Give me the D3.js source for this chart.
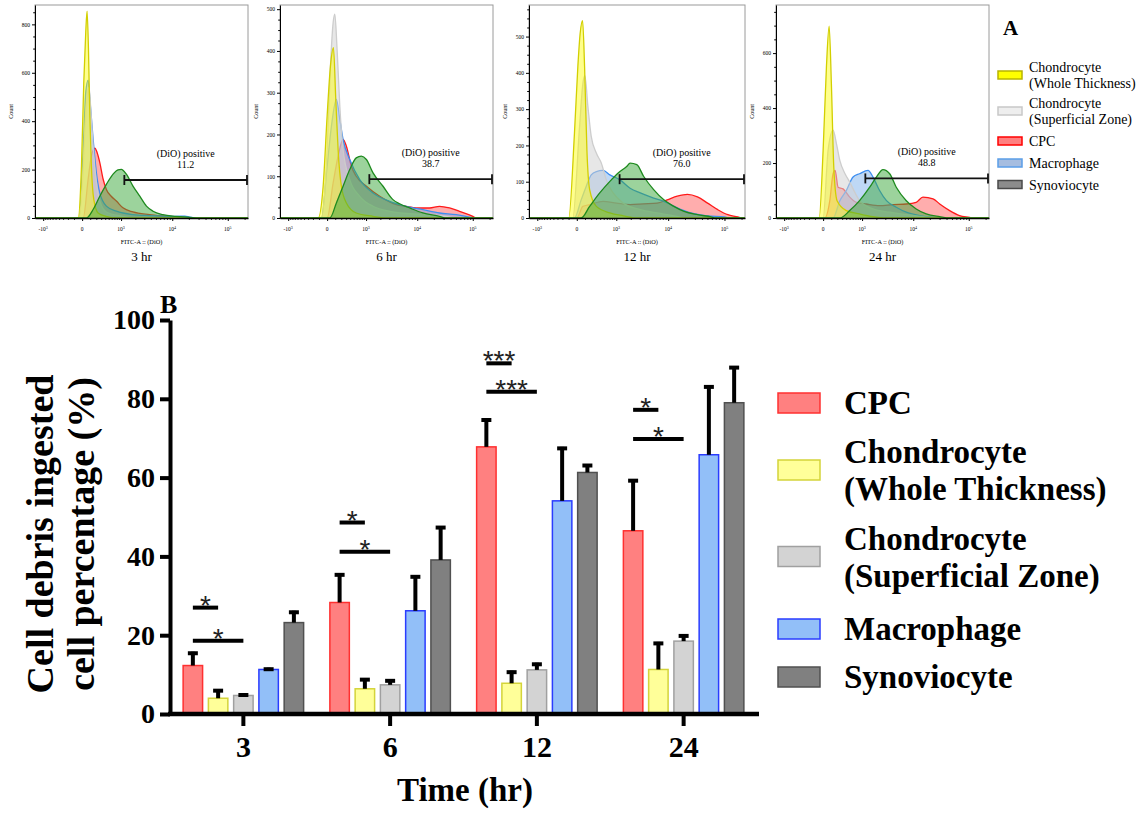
<!DOCTYPE html>
<html><head><meta charset="utf-8">
<script src="https://cdn.jsdelivr.net/npm/d3@7"></script>
<style>body{margin:0;background:#fff} svg{display:block}</style>
</head><body><svg id="c" width="1147" height="815"></svg>
<script>
// ---------- Panel A data (FITC intensity, count) ----------
const histPanels = ["3 hr","6 hr","12 hr","24 hr"];
const gateLabels = ["11.2","38.7","76.0","48.8"];
const gateLevels = [157, 93, 107, 144];
const gateStart = 1180;
const yMaxes = [880, 510, 587, 775];
const yTickSets = [[0,200,400,600,800],[0,100,200,300,400,500],[0,100,200,300,400,500],[0,200,400,600]];

const whole3 = [[-45,0],[-7,215],[18,563],[41,771],[57,855],[75,702],[94,424],[117,215],[156,76],[234,21],[425,7],[800,0]];
const super3 = [[-33,0],[11,200],[41,430],[71,530],[84,540],[108,450],[144,300],[201,150],[270,70],[432,25],[1000,8],[2000,0]];
const cpc3 = [[11,0],[71,160],[117,257],[173,289],[215,271],[270,229],[347,160],[432,118],[583,90],[780,70],[1100,42],[1790,25],[3800,14],[7700,7],[11700,3],[15000,0]];
const macro3 = [[-33,0],[11,285],[41,521],[71,570],[94,493],[144,327],[201,188],[270,104],[432,49],[780,28],[1790,14],[3800,10],[11700,7],[17000,8],[20800,4],[30000,0]];
const syn3 = [[49,0],[144,35],[270,90],[432,139],[650,181],[850,199],[1015,201],[1300,181],[1790,132],[2450,90],[3300,49],[4400,28],[6700,14],[11700,7],[20800,3],[30000,0]];

const whole6 = [[-113,0],[-45,76],[0,244],[37,364],[75,408],[108,284],[144,164],[201,76],[305,36],[583,12],[1414,4],[2500,0]];
const super6 = [[-67,0],[0,164],[37,364],[71,468],[94,488],[128,404],[173,268],[234,164],[388,92],[713,52],[1414,28],[3053,16],[12680,8],[32940,4],[50000,0]];
const cpc6 = [[0,0],[71,84],[144,148],[234,188],[305,172],[432,124],[583,100],[1015,76],[1940,52],[4080,32],[6280,28],[9590,24],[16770,24],[25400,28],[38380,24],[57940,16],[100200,4],[113300,0]];
const macro6 = [[-67,0],[0,124],[49,220],[117,284],[173,236],[234,188],[388,140],[713,92],[1414,60],[3053,40],[6280,28],[12680,20],[25400,12],[50350,8],[87460,2],[110000,0]];
const syn6 = [[30,0],[117,36],[234,76],[388,116],[583,144],[780,148],[1015,140],[1414,108],[2261,76],[3530,44],[4730,34],[7250,24],[12680,12],[25400,4],[32940,0]];

const whole12 = [[-98,0],[-25,234],[11,417],[37,509],[67,544],[94,417],[128,188],[173,78],[305,32],[713,14],[1414,6],[2600,0]];
const super12 = [[-45,0],[30,252],[71,371],[98,392],[144,307],[201,225],[305,179],[432,151],[583,105],[850,69],[1414,41],[3053,23],[6280,14],[12680,6],[20000,0]];
const cpc12 = [[0,0],[71,32],[173,37],[481,46],[1015,41],[1940,37],[3530,39],[6280,41],[9590,50],[14540,60],[22070,65],[33350,58],[50350,41],[76030,23],[114600,9],[173000,3],[200000,0]];
const macro12 = [[-25,0],[49,50],[117,87],[201,119],[305,128],[481,131],[713,119],[1203,105],[1940,82],[3053,69],[5440,55],[8340,46],[14540,28],[25400,14],[50350,6],[100200,3],[120000,0]];
const syn12 = [[49,0],[173,32],[388,69],[713,101],[1100,124],[1655,142],[1940,151],[2621,147],[3530,115],[5440,78],[8340,50],[12680,32],[19230,18],[33350,9],[57940,3],[70000,0]];

const whole24 = [[-45,0],[0,246],[37,551],[71,698],[102,490],[139,185],[196,63],[403,27],[877,15],[1710,5],[3000,0]];
const super24 = [[0,0],[57,246],[128,320],[184,271],[249,210],[369,161],[502,131],[673,94],[877,63],[1710,33],[3640,21],[7450,12],[15000,5],[25000,0]];
const cpc24 = [[18,0],[80,63],[128,161],[161,173],[215,112],[321,106],[502,76],[740,57],[1240,51],[2320,45],[4212,49],[7450,51],[11330,57],[15000,76],[22870,70],[30150,51],[45500,27],[68300,9],[103000,2],[115000,0]];
const macro24 = [[128,0],[249,63],[403,100],[612,149],[877,161],[1346,173],[1710,149],[2320,100],[3160,63],[4850,39],[7450,21],[13050,9],[22870,2],[30000,0]];
const syn24 = [[249,0],[502,27],[877,63],[1462,112],[1997,149],[2705,176],[3640,161],[4850,112],[7450,63],[11330,33],[17220,15],[30150,5],[45000,0]];

const histLegend = ["Chondrocyte\n(Whole Thickness)","Chondrocyte\n(Superficial Zone)","CPC","Macrophage","Synoviocyte"];

// ---------- Panel B data ----------
const timeCats = ["3","6","12","24"];
const seriesNames = ["CPC","Chondrocyte\n(Whole Thickness)","Chondrocyte\n(Superficial Zone)","Macrophage","Synoviocyte"];
const cpcMean = [12.3, 28.3, 67.8, 46.5];
const cpcSD = [3.5, 7.4, 7.2, 13.1];
const wholeMean = [4.0, 6.4, 7.8, 11.3];
const wholeSD = [2.3, 2.7, 3.2, 7.0];
const superMean = [4.7, 7.4, 11.2, 18.5];
const superSD = [0.5, 1.4, 1.8, 1.7];
const macroMean = [11.3, 26.2, 54.1, 65.8];
const macroSD = [0.45, 9.0, 13.7, 17.6];
const synMean = [23.2, 39.1, 61.3, 79.0];
const synSD = [3.0, 8.6, 2.15, 9.3];
const yTicksB = [0,20,40,60,80,100];
// significance: [time index, from series, to series, height, label]
const sigMarks = [
  [0,0,1,27.0,"*"],[0,0,2,18.6,"*"],
  [1,0,1,48.6,"*"],[1,0,2,41.2,"*"],
  [2,0,1,89.0,"***"],[2,0,2,81.8,"***"],
  [3,0,1,77.2,"*"],[3,0,2,69.8,"*"]
];

// ---------- styles ----------
const histStyle = {
  cpc:   {stroke:"#ff1a1a", fill:"#ff4a4a", op:0.45},
  macro: {stroke:"#3d8ef0", fill:"#6fa8e8", op:0.45},
  sup:   {stroke:"#cdcdcd", fill:"#d4d4d4", op:0.55},
  whole: {stroke:"#d2cf00", fill:"#ffff00", op:0.45},
  syn:   {stroke:"#1e8a1e", fill:"#3aa83a", op:0.5}
};
const legAStyle = [
  {fill:"#ffff00", stroke:"#b8b400"},
  {fill:"#eeeeee", stroke:"#c8c8c8"},
  {fill:"#ff8080", stroke:"#ff0000"},
  {fill:"#a6bde0", stroke:"#5b9ee8"},
  {fill:"#8c8c8c", stroke:"#4a4a4a"}
];
const barStyle = [
  {fill:"#ff8080", stroke:"#ff3030"},
  {fill:"#ffff99", stroke:"#d4d43a"},
  {fill:"#d3d3d3", stroke:"#a0a0a0"},
  {fill:"#92bff8", stroke:"#2a3cff"},
  {fill:"#808080", stroke:"#505050"}
];
const SERIF = "'Liberation Serif','Times New Roman',serif";

const svg = d3.select("#c");

// ================= Panel A =================
const panelData = [
  {whole:whole3, sup:super3, cpc:cpc3, macro:macro3, syn:syn3},
  {whole:whole6, sup:super6, cpc:cpc6, macro:macro6, syn:syn6},
  {whole:whole12, sup:super12, cpc:cpc12, macro:macro12, syn:syn12},
  {whole:whole24, sup:super24, cpc:cpc24, macro:macro24, syn:syn24}
];
const panelLeft = [35, 280, 529, 776];
const panelW = [213, 213, 216, 213];
const pTop = 5, pBot = 218;
const drawOrder = ["cpc","macro","sup","whole","syn"];
const xMajor = [-1000, 0, 1000, 10000, 100000];
const xMajorLab = [["-10","3"],["0",null],["10","3"],["10","4"],["10","5"]];
const xMinor = [];
for (let k=1;k<=9;k++){ xMinor.push(-k*100); xMinor.push(k*100); }
for (let k=2;k<=9;k++){ xMinor.push(k*1000); xMinor.push(k*10000); }
xMinor.push(200000);

panelData.forEach((pd, i) => {
  const L = panelLeft[i], W = panelW[i];
  const hx = d3.scaleSymlog().constant(253).domain([-1500, 230000]).range([L, L+W]);
  const hy = d3.scaleLinear().domain([0, yMaxes[i]]).range([pBot, pTop]);
  const g = svg.append("g");
  const cid = "clip"+i;
  g.append("clipPath").attr("id",cid).append("rect")
    .attr("x",L).attr("y",pTop).attr("width",W).attr("height",pBot-pTop+1);
  g.append("rect").attr("x",L).attr("y",pTop).attr("width",W).attr("height",pBot-pTop)
    .attr("fill","#fff").attr("stroke","#9a9a9a").attr("stroke-width",1);
  const area = d3.area().x(d=>hx(d[0])).y0(hy(0)).y1(d=>hy(d[1])).curve(d3.curveMonotoneX);
  const line = d3.line().x(d=>hx(d[0])).y(d=>hy(d[1])).curve(d3.curveMonotoneX);
  const hg = g.append("g").attr("clip-path",`url(#${cid})`);
  drawOrder.forEach(key => {
    const pts = [[-1500,0], ...pd[key], [230000,0]];
    const st = histStyle[key];
    hg.append("path").attr("d", area(pts)).attr("fill", st.fill).attr("fill-opacity", st.op);
    hg.append("path").attr("d", line(pts)).attr("fill","none").attr("stroke", st.stroke).attr("stroke-width",1.3);
  });
  // y axis
  const yMajor = yTickSets[i];
  const step = yMajor[1]-yMajor[0];
  const yMinor = d3.range(0, yMaxes[i]+1, step/4).filter(v => v%step!==0);
  const ya = g.append("g").attr("transform",`translate(${L},0)`)
    .call(d3.axisLeft(hy).tickValues(yMajor).tickSize(3).tickSizeOuter(0).tickPadding(2).tickFormat(d3.format("d")));
  ya.select(".domain").attr("stroke","#000").attr("stroke-width",1);
  ya.selectAll("text").attr("font-family",SERIF).attr("font-size",5.5);
  g.append("g").attr("transform",`translate(${L},0)`)
    .call(d3.axisLeft(hy).tickValues(yMinor).tickSize(1.8).tickFormat(""))
    .select(".domain").remove();
  // x axis
  const xa = g.append("g").attr("transform",`translate(0,${pBot})`)
    .call(d3.axisBottom(hx).tickValues(xMajor).tickSize(3).tickSizeOuter(0).tickFormat(""));
  xa.select(".domain").attr("stroke","#000").attr("stroke-width",1.5);
  g.append("g").attr("transform",`translate(0,${pBot})`)
    .call(d3.axisBottom(hx).tickValues(xMinor).tickSize(1.8).tickFormat(""))
    .select(".domain").remove();
  xMajor.forEach((v,j) => {
    const t = g.append("text").attr("x", hx(v)).attr("y", pBot+13).attr("text-anchor","middle")
      .attr("font-family",SERIF).attr("font-size",5.5).text(xMajorLab[j][0]);
    if (xMajorLab[j][1]) t.append("tspan").attr("dy",-2.5).attr("font-size",4).text(xMajorLab[j][1]);
  });
  g.append("text").attr("x", L+W/2).attr("y", 244).attr("text-anchor","middle")
    .attr("font-family",SERIF).attr("font-size",6.3).text("FITC-A :: (DiO)");
  g.append("text").attr("x", L+W/2).attr("y", 261).attr("text-anchor","middle")
    .attr("font-family",SERIF).attr("font-size",13).text(histPanels[i]);
  g.append("text").attr("transform",`translate(${L-22},${(pTop+pBot)/2}) rotate(-90)`)
    .attr("text-anchor","middle").attr("font-family",SERIF).attr("font-size",6).text("Count");
  // gate
  const gy = hy(gateLevels[i]);
  const gx1 = hx(gateStart), gx2 = hx(230000) - 1;
  g.append("line").attr("x1",gx1).attr("x2",gx2).attr("y1",gy).attr("y2",gy).attr("stroke","#111").attr("stroke-width",1.8);
  [gx1,gx2].forEach(xx => g.append("line").attr("x1",xx).attr("x2",xx).attr("y1",gy-5).attr("y2",gy+5).attr("stroke","#111").attr("stroke-width",1.8));
  const gcx = (gx1+gx2)/2;
  g.append("text").attr("x",gcx).attr("y",gy-23).attr("text-anchor","middle").attr("font-family",SERIF).attr("font-size",10).text("(DiO) positive");
  g.append("text").attr("x",gcx).attr("y",gy-12).attr("text-anchor","middle").attr("font-family",SERIF).attr("font-size",10).text(gateLabels[i]);
});

// Legend A
svg.append("text").attr("x",1003).attr("y",35).attr("font-family",SERIF).attr("font-weight","bold").attr("font-size",21).text("A");
const legAy = [75, 111, 141, 163, 184.5];
histLegend.forEach((name, i) => {
  const cy = legAy[i];
  svg.append("rect").attr("x",998).attr("y",cy-4).attr("width",24).attr("height",8)
    .attr("fill",legAStyle[i].fill).attr("stroke",legAStyle[i].stroke).attr("stroke-width",1.5);
  const lines = name.split("\n");
  lines.forEach((ln, k) => {
    const by = lines.length===1 ? cy+5 : cy - 3 + k*16;
    svg.append("text").attr("x",1029).attr("y",by).attr("font-family",SERIF).attr("font-size",14).text(ln);
  });
});

// ================= Panel B =================
const means = [cpcMean, wholeMean, superMean, macroMean, synMean];
const sds = [cpcSD, wholeSD, superSD, macroSD, synSD];
const x0 = d3.scaleBand().domain(timeCats).range([170, 757]);
const x1 = d3.scaleBand().domain(d3.range(5)).range([0, x0.bandwidth()]).paddingInner(0.17).paddingOuter(0.49);
const y = d3.scaleLinear().domain([0,100]).range([714, 320]);
const gb = svg.append("g");

timeCats.forEach((c, ti) => {
  means.forEach((m, si) => {
    const bx = x0(c) + x1(si);
    gb.append("rect").attr("x", bx+0.75).attr("y", y(m[ti])).attr("width", x1.bandwidth()-1.5)
      .attr("height", y(0)-y(m[ti])).attr("fill", barStyle[si].fill).attr("stroke", barStyle[si].stroke).attr("stroke-width",1.5);
    const cx = bx + x1.bandwidth()/2;
    const top = y(m[ti] + sds[si][ti]);
    gb.append("line").attr("x1",cx).attr("x2",cx).attr("y1",y(m[ti])).attr("y2",top).attr("stroke","#000").attr("stroke-width",4);
    gb.append("line").attr("x1",cx-5).attr("x2",cx+5).attr("y1",top+1.5).attr("y2",top+1.5).attr("stroke","#000").attr("stroke-width",4);
  });
});

// significance
sigMarks.forEach(([ti, a, b, h, lab]) => {
  const xa = x0(timeCats[ti]) + x1(a) + x1.bandwidth()/2;
  const xb = x0(timeCats[ti]) + x1(b) + x1.bandwidth()/2;
  const ly = y(h);
  gb.append("line").attr("x1",xa).attr("x2",xb).attr("y1",ly).attr("y2",ly).attr("stroke","#000").attr("stroke-width",4);
  gb.append("text").attr("x",(xa+xb)/2).attr("y",ly+7).attr("text-anchor","middle")
    .attr("font-family","'Liberation Sans',Arial,sans-serif").attr("font-size",28).attr("fill","#222").text(lab);
});

// axes
const yAxB = gb.append("g").attr("transform","translate(170,0)")
  .call(d3.axisLeft(y).tickValues(yTicksB).tickSize(10).tickSizeOuter(0).tickPadding(5));
yAxB.select(".domain").attr("stroke","#000").attr("stroke-width",4);
yAxB.selectAll(".tick line").attr("stroke","#000").attr("stroke-width",4);
yAxB.selectAll("text").attr("font-family",SERIF).attr("font-weight","bold").attr("font-size",28).attr("fill","#000");

const xAxB = gb.append("g").attr("transform","translate(0,714)")
  .call(d3.axisBottom(x0).tickSize(12).tickSizeOuter(0).tickPadding(10));
xAxB.select(".domain").remove();
xAxB.selectAll(".tick line").attr("stroke","#000").attr("stroke-width",4);
xAxB.selectAll("text").attr("font-family",SERIF).attr("font-weight","bold").attr("font-size",30).attr("fill","#000");
gb.append("line").attr("x1",168).attr("x2",759).attr("y1",714).attr("y2",714).attr("stroke","#000").attr("stroke-width",4.5);

gb.append("text").attr("x",465).attr("y",801).attr("text-anchor","middle")
  .attr("font-family",SERIF).attr("font-weight","bold").attr("font-size",33).text("Time (hr)");
["Cell debris ingested","cell percentage (%)"].forEach((t,k) => {
  gb.append("text").attr("transform",`translate(${53+k*41},534) rotate(-90)`).attr("text-anchor","middle")
    .attr("font-family",SERIF).attr("font-weight","bold").attr("font-size",38).text(t);
});
gb.append("text").attr("x",160).attr("y",313).attr("font-family",SERIF).attr("font-weight","bold").attr("font-size",26).text("B");

// Legend B
const legBy = [403, 470, 556.5, 629, 677];
seriesNames.forEach((name, i) => {
  const cy = legBy[i];
  gb.append("rect").attr("x",778).attr("y",cy-10).attr("width",42).attr("height",20)
    .attr("fill",barStyle[i].fill).attr("stroke",barStyle[i].stroke).attr("stroke-width",1.5);
  const lines = name.split("\n");
  lines.forEach((ln,k) => {
    const by = lines.length===1 ? cy+11 : cy - 7 + k*37;
    gb.append("text").attr("x",844).attr("y",by).attr("font-family",SERIF).attr("font-weight","bold").attr("font-size",33).text(ln);
  });
});
</script></body></html>
